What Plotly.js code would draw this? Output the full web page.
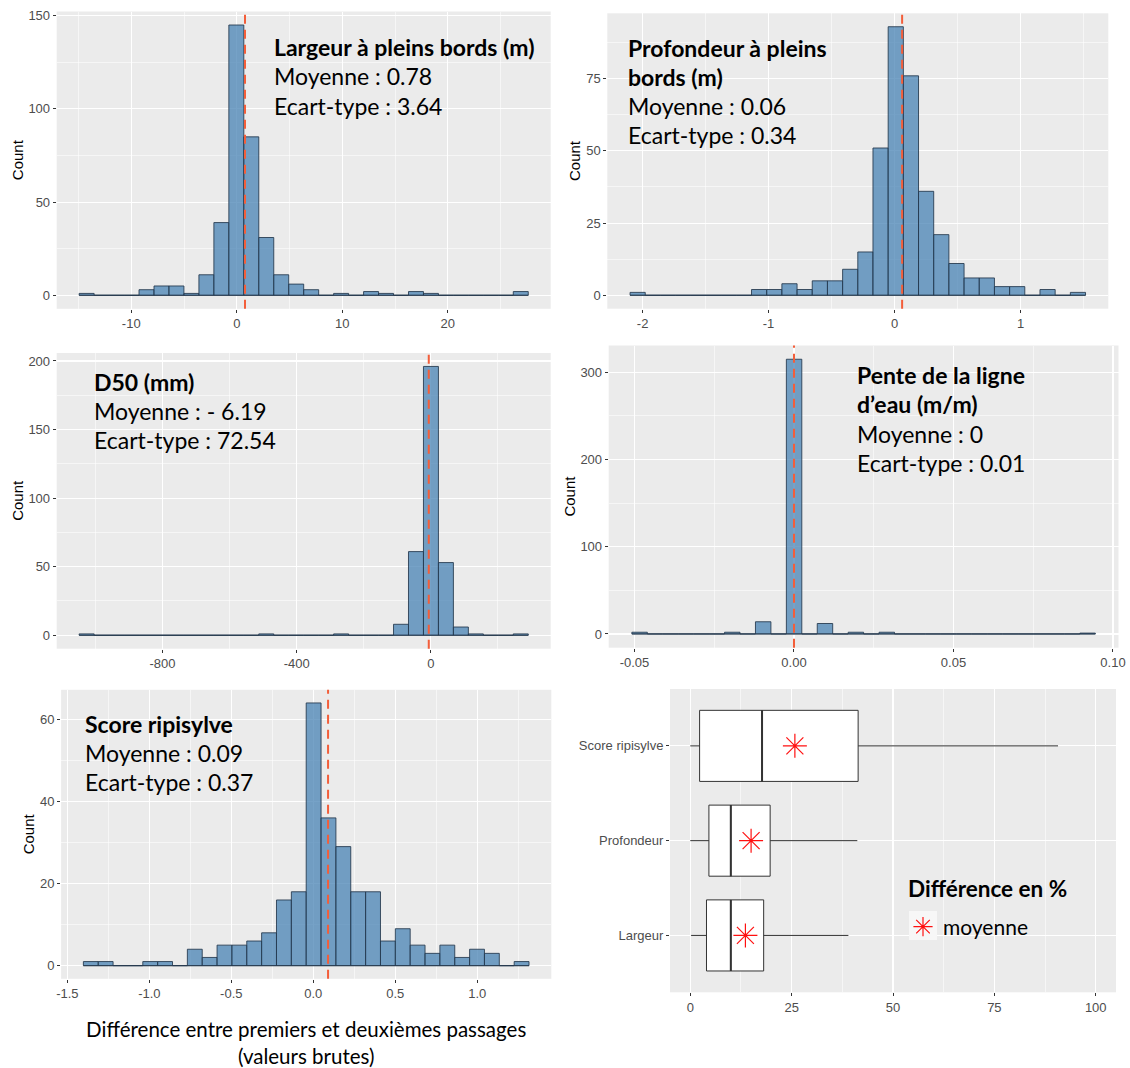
<!DOCTYPE html>
<html><head><meta charset="utf-8">
<script src="https://cdn.plot.ly/plotly-3.0.1.min.js"></script>
<style>html,body{margin:0;padding:0;background:#fff;}#chart{width:1130px;height:1068px;}</style>
</head><body><div id="chart"></div>
<script>
// ================= DATA =================
// Largeur à pleins bords (m)
const largeurCounts = [1,0,0,0,3,5,5,1,11,39,145,85,31,11,6,3,0,1,0,2,1,0,2,1,0,0,0,0,0,2];
const largeurBinStart = -14.23;
const largeurBinWidth = 1.419;
const largeurMean = 0.78;
const largeurLines = ['<b>Largeur à pleins bords (m)</b>', 'Moyenne : 0.78', 'Ecart-type : 3.64'];
const largeurXTicks = [-10, 0, 10, 20];
const largeurXTickText = ['-10', '0', '10', '20'];
const largeurYTicks = [0, 50, 100, 150];

// Profondeur à pleins bords (m)
const profCounts = [1,0,0,0,0,0,0,0,2,2,4,2,5,5,9,15,51,93,76,36,21,11,6,6,3,3,0,2,0,1];
const profBinStart = -2.039;
const profBinWidth = 0.1205;
const profMean = 0.06;
const profLines = ['<b>Profondeur à pleins</b>', '<b>bords (m)</b>', 'Moyenne : 0.06', 'Ecart-type : 0.34'];
const profXTicks = [-2, -1, 0, 1];
const profXTickText = ['-2', '-1', '0', '1'];
const profYTicks = [0, 25, 50, 75];

// D50 (mm)
const d50Counts = [1,0,0,0,0,0,0,0,0,0,0,0,1,0,0,0,0,1,0,0,0,8,61,196,53,6,1,0,0,1];
const d50BinStart = -1026.4;
const d50BinWidth = 44.64;
const d50Mean = -6.19;
const d50Lines = ['<b>D50 (mm)</b>', 'Moyenne : - 6.19', 'Ecart-type : 72.54'];
const d50XTicks = [-800, -400, 0];
const d50XTickText = ['-800', '-400', '0'];
const d50YTicks = [0, 50, 100, 150, 200];

// Pente de la ligne d'eau (m/m)
const penteCounts = [2,0,0,0,0,0,2,0,14,0,315,0,12,0,2,0,2,0,0,0,0,0,0,0,0,0,0,0,0,1];
const penteBinStart = -0.0484;
const penteBinWidth = 0.004843;
const penteMean = 0;
const penteLines = ['<b>Pente de la ligne</b>', '<b>d’eau (m/m)</b>', 'Moyenne : 0', 'Ecart-type : 0.01'];
const penteXTicks = [-0.05, 0, 0.05, 0.10];
const penteXTickText = ['-0.05', '0.00', '0.05', '0.10'];
const penteYTicks = [0, 100, 200, 300];

// Score ripisylve
const scoreCounts = [1,1,0,0,1,1,0,4,2,5,5,6,8,16,18,64,36,29,18,18,6,9,5,3,5,2,4,3,0,1];
const scoreBinStart = -1.357;
const scoreBinWidth = 0.0906;
const scoreMean = 0.09;
const scoreLines = ['<b>Score ripisylve</b>', 'Moyenne : 0.09', 'Ecart-type : 0.37'];
const scoreXTicks = [-1.5, -1.0, -0.5, 0, 0.5, 1.0];
const scoreXTickText = ['-1.5', '-1.0', '-0.5', '0.0', '0.5', '1.0'];
const scoreYTicks = [0, 20, 40, 60];

// Différence en % (boxplot)
const boxCategories = ['Largeur', 'Profondeur', 'Score ripisylve'];
const boxLower  = [0.2, 0.0, 0.0];
const boxQ1     = [4.0, 4.6, 2.3];
const boxMedian = [10.0, 10.0, 17.7];
const boxQ3     = [18.1, 19.7, 41.4];
const boxUpper  = [39.0, 41.2, 90.7];
const boxMean   = [13.6, 15.0, 25.8];
const boxXTicks = [0, 25, 50, 75, 100];

const xTitleText = 'Différence entre premiers et deuxièmes passages<br>(valeurs brutes)';
const legendTitle = '<b>Différence en %</b>';
const legendItem = 'moyenne';

// ================= HELPERS =================
const W = 1130, H = 1068;
const px = v => v / W;
const py = v => 1 - v / H;
const FILL = 'rgba(70,130,180,0.74)';
const EDGE = 'rgba(35,55,75,0.85)';
const MEANCOL = '#F35E3A';
const TICKFONT = {family: 'Liberation Sans, Arial, sans-serif', size: 13, color: '#4D4D4D'};
const TXTFONT = {family: 'Lato, sans-serif', size: 23, color: '#000000'};

function centers(start, width, n) {
  const c = [];
  for (let i = 0; i < n; i++) c.push(start + i * width);
  return c;
}
function mids(ticks) {
  const m = [];
  const step = ticks[1] - ticks[0];
  m.push(ticks[0] - step / 2);
  for (let i = 0; i < ticks.length; i++) m.push(ticks[i] + step / 2);
  return m;
}

const traces = [];
const shapes = [];
const annotations = [];
const layout = {
  width: W, height: H,
  margin: {l: 0, r: 0, t: 0, b: 0},
  paper_bgcolor: '#FFFFFF',
  plot_bgcolor: '#EBEBEB',
  showlegend: true,
  bargap: 0,
  font: {family: 'Liberation Sans, Arial, sans-serif'},
  shapes: shapes,
  annotations: annotations
};

function axisBase(extra) {
  return Object.assign({
    showline: false, zeroline: false, ticks: 'outside', ticklen: 3, tickwidth: 1,
    tickcolor: '#333333', tickfont: TICKFONT, showgrid: true, gridcolor: '#FFFFFF',
    gridwidth: 1.1, automargin: false, fixedrange: true
  }, extra);
}

function addHist(idx, counts, start, width, mean, lines, xt, xtt, yt, dom, txt) {
  const xa = idx === 1 ? 'x' : 'x' + idx;
  const ya = idx === 1 ? 'y' : 'y' + idx;
  const c = centers(start, width, counts.length);
  const left = c[0] - width / 2, right = c[c.length - 1] + width / 2;
  const span = right - left;
  const maxC = Math.max.apply(null, counts);
  // baseline for empty bins (as ggplot draws zero-height bars)
  traces.push({type: 'scatter', mode: 'lines', x: [left, right], y: [0, 0],
    line: {color: EDGE, width: 1}, xaxis: xa, yaxis: ya, hoverinfo: 'skip', showlegend: false});
  traces.push({type: 'bar', x: c, y: counts, width: width,
    marker: {color: FILL, line: {color: EDGE, width: 1}},
    xaxis: xa, yaxis: ya, hoverinfo: 'skip', showlegend: false});
  const xk = idx === 1 ? 'xaxis' : 'xaxis' + idx;
  const yk = idx === 1 ? 'yaxis' : 'yaxis' + idx;
  layout[xk] = axisBase({
    domain: [px(dom[0]), px(dom[1])], anchor: ya,
    range: [left - 0.05 * span, right + 0.05 * span],
    tickmode: 'array', tickvals: xt, ticktext: xtt,
    minor: {tickmode: 'array', tickvals: mids(xt), showgrid: true, gridcolor: '#FFFFFF', gridwidth: 0.55, ticks: ''}
  });
  const yTitle = {text: 'Count', font: {family: 'Liberation Sans, Arial, sans-serif', size: 15, color: '#000000'}, standoff: 1};
  layout[yk] = axisBase({
    domain: [py(dom[3]), py(dom[2])], anchor: xa,
    range: [-0.05 * maxC, 1.05 * maxC],
    tickmode: 'array', tickvals: yt, ticktext: yt.map(String),
    minor: {tickmode: 'array', tickvals: mids(yt), showgrid: true, gridcolor: '#FFFFFF', gridwidth: 0.55, ticks: ''},
    title: yTitle
  });
  shapes.push({type: 'line', xref: xa, yref: ya + ' domain', x0: mean, x1: mean, y0: 0, y1: 1,
    line: {color: MEANCOL, width: 2, dash: '9px,6px'}, layer: 'above'});
  lines.forEach((t, i) => {
    annotations.push({text: t, xref: 'paper', yref: 'paper', x: px(txt[0]), y: py(txt[1] + i * 29.3),
      xanchor: 'left', yanchor: 'middle', showarrow: false, font: TXTFONT});
  });
}

// domains in pixels: [left, right, top, bottom]; text anchor [x, y of first line]
addHist(1, largeurCounts, largeurBinStart, largeurBinWidth, largeurMean, largeurLines,
  largeurXTicks, largeurXTickText, largeurYTicks, [56.7, 550.7, 11.5, 308.8], [272, 47]);
addHist(2, profCounts, profBinStart, profBinWidth, profMean, profLines,
  profXTicks, profXTickText, profYTicks, [607.3, 1108.3, 13.3, 308.7], [626, 47.5]);
addHist(3, d50Counts, d50BinStart, d50BinWidth, d50Mean, d50Lines,
  d50XTicks, d50XTickText, d50YTicks, [56.7, 550.7, 353.0, 648.7], [92, 381.5]);
addHist(4, penteCounts, penteBinStart, penteBinWidth, penteMean, penteLines,
  penteXTicks, penteXTickText, penteYTicks, [608.7, 1118.5, 345.5, 647.7], [855, 375]);
addHist(5, scoreCounts, scoreBinStart, scoreBinWidth, scoreMean, scoreLines,
  scoreXTicks, scoreXTickText, scoreYTicks, [61.1, 551.3, 689.8, 978.8], [83, 723.5]);

layout.xaxis5.title = {text: xTitleText, font: {family: 'Lato, sans-serif', size: 20.5, color: '#000000'}, standoff: 26};

// ---- Boxplot panel ----
const boxPos = boxCategories.map((_, i) => i);
traces.push({type: 'box', orientation: 'h', y: boxPos,
  q1: boxQ1, median: boxMedian, q3: boxQ3, lowerfence: boxLower, upperfence: boxUpper,
  width: 0.75, whiskerwidth: 0, boxpoints: false, fillcolor: '#FFFFFF',
  line: {color: '#333333', width: 1}, xaxis: 'x6', yaxis: 'y6', hoverinfo: 'skip', showlegend: false});
// thicker median bar (ggplot fatten)
const medX = [], medY = [];
boxMedian.forEach((m, i) => { medX.push(m, m, null); medY.push(i - 0.375, i + 0.375, null); });
traces.push({type: 'scatter', mode: 'lines', x: medX, y: medY, line: {color: '#333333', width: 2},
  xaxis: 'x6', yaxis: 'y6', hoverinfo: 'skip', showlegend: false});
traces.push({type: 'scatter', mode: 'markers', name: legendItem, x: boxMean, y: boxPos,
  marker: {symbol: 'asterisk-open', size: 20, color: '#FF1010', line: {color: '#FF1010', width: 1.2}},
  xaxis: 'x6', yaxis: 'y6', hoverinfo: 'skip', showlegend: true});

layout.xaxis6 = axisBase({
  domain: [px(670), px(1116)], anchor: 'y6', range: [-5, 105],
  tickmode: 'array', tickvals: boxXTicks, ticktext: boxXTicks.map(String),
  minor: {tickmode: 'array', tickvals: mids(boxXTicks), showgrid: true, gridcolor: '#FFFFFF', gridwidth: 0.55, ticks: ''}
});
layout.yaxis6 = axisBase({
  domain: [py(992.3), py(689)], anchor: 'x6', range: [-0.6, 2.6],
  tickmode: 'array', tickvals: boxPos, ticktext: boxCategories
});

// legend title and key background (ggplot style)
annotations.push({text: legendTitle, xref: 'paper', yref: 'paper', x: px(906), y: py(888),
  xanchor: 'left', yanchor: 'middle', showarrow: false,
  font: {family: 'Lato, sans-serif', size: 22.5, color: '#000000'}});
shapes.push({type: 'rect', xref: 'paper', yref: 'paper', x0: px(909), x1: px(937), y0: py(940), y1: py(911),
  fillcolor: '#F7F7F7', line: {width: 0}, layer: 'above'});
layout.legend = {
  x: px(903), y: py(927), xanchor: 'left', yanchor: 'middle',
  bgcolor: 'rgba(0,0,0,0)', borderwidth: 0,
  font: {family: 'Lato, sans-serif', size: 21, color: '#000000'}
};

Plotly.newPlot('chart', traces, layout, {staticPlot: true, displayModeBar: false});
</script>
</body></html>
